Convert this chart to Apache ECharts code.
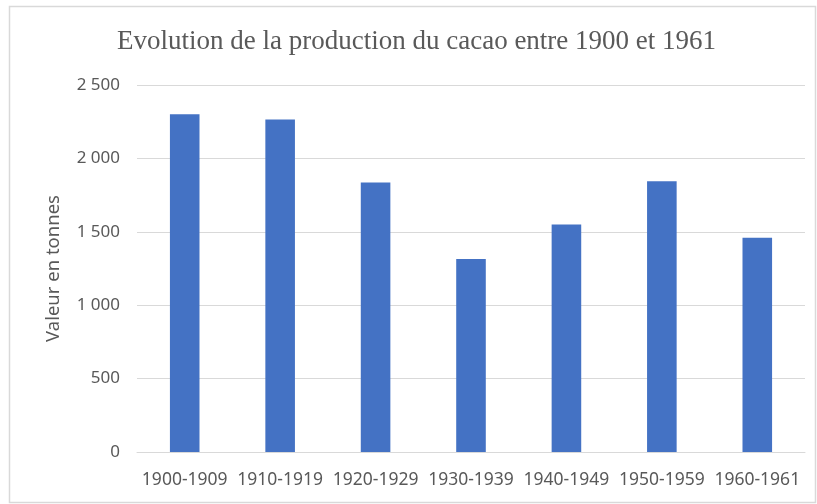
<!DOCTYPE html>
<html>
<head>
<meta charset="utf-8">
<script src="https://cdn.jsdelivr.net/npm/echarts@6/dist/echarts.min.js"></script>
<style>
  html, body { margin: 0; padding: 0; background: #fff; }
  #main { width: 817px; height: 504px; }
</style>
</head>
<body>
<div id="main"></div>
<script>
// periodes et production (tonnes)
const periodes = ['1900-1909', '1910-1919', '1920-1929', '1930-1939', '1940-1949', '1950-1959', '1960-1961'];
const production = [2300, 2265, 1835, 1315, 1550, 1845, 1460];
const yTicks = [0, 500, 1000, 1500, 2000, 2500];

const labelFont = "'Noto Sans', sans-serif";
const grey = '#595959';

var myChart = echarts.init(document.getElementById('main'));

var option = {
    animation: false,
    title: {
        text: 'Evolution de la production du cacao entre 1900 et 1961',
        left: 112,
        top: 23,
        textStyle: {
            fontFamily: "'Liberation Serif', serif",
            fontWeight: 'normal',
            fontSize: 27,
            color: grey
        }
    },
    graphic: [{
        type: 'rect',
        shape: { x: 9.5, y: 6.5, width: 806, height: 496 },
        style: { fill: null, stroke: '#d9d9d9', lineWidth: 1.5 },
        silent: true
    }],
    grid: {
        left: 137,
        right: 12,
        top: 85,
        bottom: 52
    },
    xAxis: {
        type: 'category',
        data: periodes,
        axisLine: { lineStyle: { color: '#d9d9d9' } },
        axisTick: { show: false },
        axisLabel: {
            color: grey,
            fontFamily: labelFont,
            fontSize: 17.5,
            margin: 19,
            interval: 0
        }
    },
    yAxis: {
        type: 'value',
        min: yTicks[0],
        max: yTicks[yTicks.length - 1],
        interval: 500,
        name: 'Valeur en tonnes',
        nameLocation: 'middle',
        nameGap: 74,
        nameTextStyle: {
            color: grey,
            fontFamily: labelFont,
            fontSize: 18.5
        },
        axisLine: { show: false },
        axisTick: { show: false },
        splitLine: { lineStyle: { color: '#d9d9d9' } },
        axisLabel: {
            color: grey,
            fontFamily: labelFont,
            fontSize: 17,
            margin: 17,
            formatter: function (v) {
                return String(v).replace(/\B(?=(\d{3})+(?!\d))/g, ' ');
            }
        }
    },
    series: [{
        type: 'bar',
        data: production,
        barWidth: '31%',
        itemStyle: { color: '#4472C4' }
    }]
};
myChart.setOption(option);
</script>
</body>
</html>
